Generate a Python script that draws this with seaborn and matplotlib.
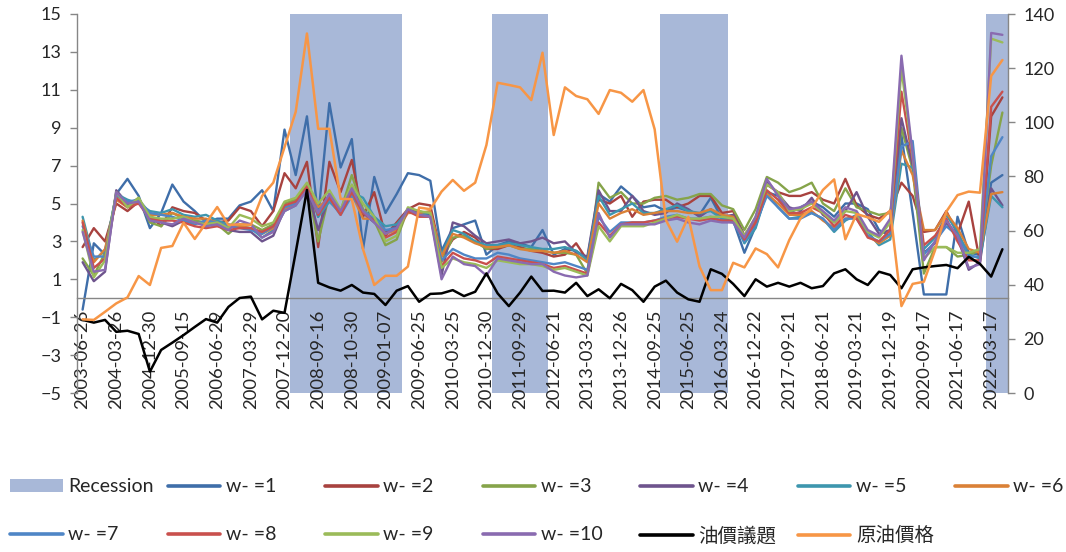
import numpy as np
import pandas as pd
import matplotlib
matplotlib.use("Agg")
import matplotlib.pyplot as plt
import seaborn as sns
from matplotlib.lines import Line2D
from matplotlib.patches import Patch

# ---- data ----
tick_dates = [
    "2003-06-26", "2004-03-26", "2004-12-30", "2005-09-15", "2006-06-29",
    "2007-03-29", "2007-12-20", "2008-09-16", "2008-10-30", "2009-01-07",
    "2009-06-25", "2010-03-25", "2010-12-30", "2011-09-29", "2012-06-21",
    "2013-03-28", "2013-12-26", "2014-09-25", "2015-06-25", "2016-03-24",
    "2016-12-22", "2017-09-21", "2018-06-21", "2019-03-21", "2019-12-19",
    "2020-09-17", "2021-06-17", "2022-03-17",
]
label_every = 3

# recession periods as (first, last) observation index
recession_spans = [(19, 28), (37, 41), (52, 57), (81, 82)]

w1 = [-0.6, 2.9, 2.3, 5.5, 6.3, 5.4, 3.7, 4.5, 6.0, 5.1, 4.6, 4.0, 4.2, 4.2, 4.9, 5.1, 5.7, 4.6, 8.9, 6.5,
      9.6, 4.3, 10.3, 6.9, 8.4, 2.6, 6.4, 4.5, 5.5, 6.6, 6.5, 6.2, 2.5, 3.7, 3.9, 4.1, 2.3, 2.8, 3.0, 2.9,
      2.7, 3.6, 2.3, 2.6, 2.5, 2.1, 5.5, 5.1, 5.9, 5.4, 4.8, 4.9, 4.6, 4.8, 4.6, 4.4, 5.3, 4.2, 4.1, 2.4,
      3.8, 5.6, 5.4, 4.5, 4.8, 5.1, 4.8, 4.3, 5.0, 5.0, 4.7, 3.6, 3.3, 8.6, 4.5, 0.2, 0.2, 0.2, 4.3, 2.4,
      2.3, 6.1, 6.5]
w2 = [2.7, 3.7, 3.0, 5.0, 4.6, 5.1, 4.4, 3.8, 4.8, 4.6, 4.5, 4.1, 4.0, 4.1, 4.8, 4.6, 3.8, 4.6, 6.6, 5.8,
      7.2, 2.7, 7.2, 5.6, 7.3, 4.3, 5.6, 3.3, 4.0, 4.7, 5.0, 4.9, 2.2, 3.1, 3.5, 3.2, 2.6, 2.6, 2.8, 2.7,
      2.5, 2.4, 2.2, 2.3, 2.9, 2.0, 5.2, 5.0, 5.4, 4.3, 5.1, 5.2, 5.2, 4.8, 5.0, 5.4, 5.4, 4.5, 4.6, 3.3,
      4.2, 6.0, 5.6, 5.4, 5.4, 5.6, 5.2, 5.0, 6.3, 4.9, 4.4, 4.2, 4.6, 6.1, 5.4, 3.5, 3.6, 4.6, 3.4, 5.1,
      1.9, 9.6, 10.6]
w3 = [2.1, 1.2, 2.4, 5.5, 4.9, 5.3, 4.0, 3.8, 4.5, 4.2, 4.1, 4.0, 3.9, 3.4, 3.9, 3.9, 3.6, 3.9, 5.0, 5.2,
      6.0, 3.0, 5.5, 4.6, 6.5, 4.7, 4.1, 2.8, 3.1, 4.7, 4.6, 4.4, 1.9, 3.2, 3.3, 3.0, 2.6, 2.7, 2.8, 2.6,
      2.6, 2.5, 2.4, 2.4, 2.3, 1.3, 6.1, 5.3, 5.6, 5.0, 5.0, 5.3, 5.4, 5.2, 5.3, 5.5, 5.5, 4.9, 4.7, 3.6,
      4.7, 6.4, 6.1, 5.6, 5.8, 6.1, 5.0, 4.6, 5.8, 4.8, 4.6, 4.4, 4.5, 9.0, 6.8, 1.3, 2.7, 2.7, 2.2, 2.3,
      2.5, 7.0, 9.8]
w4 = [1.9, 0.9, 1.4, 5.7, 5.0, 5.1, 4.3, 4.0, 3.8, 4.1, 4.0, 3.9, 3.9, 3.6, 3.5, 3.5, 3.0, 3.3, 4.7, 5.0,
      5.8, 3.6, 5.4, 4.5, 5.8, 4.5, 4.0, 3.5, 3.8, 4.7, 4.5, 4.4, 1.2, 4.0, 3.8, 3.3, 2.9, 3.0, 3.1, 2.9,
      3.0, 3.2, 2.9, 3.0, 2.4, 2.2, 5.7, 4.6, 4.6, 5.4, 4.6, 4.4, 4.5, 5.0, 4.7, 4.3, 4.7, 4.3, 4.4, 3.3,
      4.2, 6.2, 5.5, 4.8, 4.6, 5.3, 4.4, 4.0, 4.6, 5.6, 4.3, 3.4, 3.6, 9.5, 7.0, 2.4, 2.9, 4.0, 3.2, 1.5,
      1.9, 5.8, 4.9]
w5 = [4.3, 2.0, 2.5, 5.5, 5.2, 5.0, 4.6, 4.5, 4.7, 4.4, 4.3, 4.4, 4.1, 3.9, 3.8, 3.7, 3.2, 3.6, 4.6, 4.9,
      5.9, 4.3, 5.1, 4.5, 5.6, 5.3, 4.3, 3.8, 3.9, 4.6, 4.4, 4.5, 2.3, 3.6, 3.4, 3.0, 2.8, 2.8, 2.9, 2.8,
      2.7, 2.6, 2.6, 2.7, 2.5, 2.0, 5.4, 4.4, 4.7, 5.0, 4.5, 4.5, 4.7, 4.9, 4.6, 4.5, 4.6, 4.2, 4.2, 2.9,
      3.7, 5.6, 4.8, 4.2, 4.3, 4.5, 4.2, 3.5, 4.1, 4.4, 3.5, 2.8, 3.1, 7.1, 6.9, 2.6, 3.2, 4.4, 3.5, 2.3,
      2.1, 5.4, 4.8]
w6 = [4.1, 1.9, 2.6, 5.2, 4.8, 5.1, 4.4, 4.4, 4.5, 4.3, 4.2, 4.2, 4.0, 3.8, 3.8, 3.7, 3.4, 3.7, 4.7, 5.0,
      5.8, 4.8, 5.3, 4.6, 5.5, 4.2, 4.2, 3.4, 3.6, 4.5, 4.5, 4.6, 2.2, 3.4, 3.2, 2.9, 2.7, 2.7, 2.8, 2.6,
      2.5, 2.5, 2.4, 2.5, 2.3, 1.9, 5.0, 4.2, 4.5, 4.7, 4.4, 4.5, 4.6, 4.6, 4.5, 4.5, 4.7, 4.4, 4.3, 3.2,
      4.0, 5.5, 5.0, 4.4, 4.4, 4.6, 4.1, 3.7, 4.2, 4.3, 3.3, 2.9, 3.3, 7.8, 6.5, 3.6, 3.6, 4.5, 3.7, 2.6,
      2.4, 5.5, 5.6]
w7 = [3.8, 2.2, 2.2, 5.4, 5.1, 5.2, 4.5, 4.4, 4.3, 4.1, 3.9, 4.1, 4.0, 3.8, 3.7, 3.6, 3.4, 3.8, 4.8, 5.0,
      5.7, 4.6, 5.2, 4.4, 5.4, 4.6, 4.2, 3.6, 3.7, 4.6, 4.4, 4.3, 2.0, 2.6, 2.3, 2.1, 2.1, 2.4, 2.3, 2.1,
      2.0, 1.9, 1.8, 1.9, 1.7, 1.5, 4.3, 3.5, 4.0, 4.0, 4.0, 4.1, 4.3, 4.4, 4.2, 4.2, 4.3, 4.1, 4.0, 3.0,
      3.9, 5.4, 4.8, 4.2, 4.2, 4.5, 4.2, 3.6, 4.2, 4.2, 3.3, 3.0, 3.4, 8.0, 8.3, 2.3, 3.0, 3.8, 3.3, 2.2,
      2.2, 7.5, 8.5]
w8 = [4.0, 1.6, 2.1, 5.3, 4.8, 5.0, 4.2, 4.1, 4.1, 4.0, 3.8, 3.7, 3.8, 3.6, 3.7, 3.7, 3.5, 3.8, 4.9, 5.1,
      5.9, 4.4, 5.3, 4.4, 5.6, 4.5, 4.1, 3.2, 3.5, 4.6, 4.3, 4.3, 1.7, 2.4, 2.1, 2.0, 1.8, 2.2, 2.1, 2.0,
      1.9, 1.8, 1.6, 1.7, 1.5, 1.3, 4.0, 3.3, 3.9, 4.0, 4.0, 4.1, 4.2, 4.3, 4.2, 4.1, 4.2, 4.1, 4.1, 3.1,
      4.0, 5.7, 5.2, 4.5, 4.5, 4.8, 4.5, 3.8, 4.4, 4.2, 3.2, 3.0, 3.6, 10.9, 7.3, 2.8, 3.3, 4.2, 3.0, 2.0,
      2.0, 10.1, 10.9]
w9 = [3.6, 1.1, 2.0, 5.6, 4.8, 5.3, 4.3, 4.2, 4.2, 4.3, 4.0, 3.9, 4.0, 3.7, 4.4, 4.2, 3.8, 4.0, 5.1, 5.3,
      6.1, 5.0, 5.7, 4.7, 6.0, 5.0, 4.3, 3.0, 3.3, 4.8, 4.6, 4.5, 1.6, 2.1, 1.9, 1.8, 1.6, 2.0, 1.9, 1.8,
      1.8, 1.7, 1.5, 1.6, 1.4, 1.2, 3.8, 3.0, 3.8, 3.8, 3.8, 4.0, 4.2, 4.4, 4.2, 4.2, 4.3, 4.3, 4.2, 3.3,
      4.3, 6.0, 5.6, 4.6, 4.7, 5.0, 4.5, 4.0, 4.6, 4.5, 3.5, 3.2, 4.0, 12.1, 7.5, 2.1, 2.7, 2.7, 2.4, 2.4,
      2.6, 13.7, 13.5]
w10 = [3.5, 1.4, 1.5, 5.6, 5.0, 5.1, 4.1, 4.0, 3.9, 4.2, 4.0, 3.8, 3.9, 3.6, 4.1, 3.9, 3.2, 3.5, 4.6, 4.9,
       5.7, 4.5, 5.5, 4.6, 5.8, 4.6, 4.0, 3.4, 3.7, 4.7, 4.4, 4.3, 1.0, 2.2, 1.8, 1.7, 1.2, 2.1, 2.0, 1.9,
       1.8, 1.8, 1.4, 1.2, 1.1, 1.2, 4.5, 3.2, 3.9, 3.9, 3.9, 3.9, 4.1, 4.2, 4.0, 3.9, 4.1, 4.0, 4.0, 3.2,
       4.3, 6.3, 5.4, 4.7, 4.8, 5.1, 4.6, 4.1, 4.8, 4.6, 3.6, 3.3, 4.2, 12.8, 7.6, 2.0, 3.0, 4.1, 3.3, 1.6,
       1.8, 14.0, 13.9]

oil_topic = [27.0, 26.0, 27.0, 22.6, 23.0, 21.8, 7.9, 15.9, 18.6, 21.4, 24.4, 27.3, 26.0, 31.8, 35.1, 35.6,
             27.2, 30.4, 29.6, 52.0, 75.0, 40.7, 39.0, 37.8, 39.9, 37.1, 36.6, 32.5, 37.8, 39.5, 33.7, 36.6,
             36.8, 38.0, 35.8, 37.4, 44.2, 36.8, 32.1, 37.1, 43.0, 37.7, 37.8, 37.1, 40.7, 35.8, 38.3, 35.0,
             40.3, 38.0, 33.7, 39.3, 41.5, 37.1, 34.6, 33.7, 45.7, 44.0, 40.3, 35.8, 42.0, 39.3, 40.7, 39.3,
             40.7, 38.7, 39.5, 44.2, 45.7, 42.0, 39.9, 44.8, 43.6, 38.7, 45.7, 46.4, 46.9, 47.3, 46.1, 50.3,
             47.7, 43.0, 53.1]
crude_oil = [27.2, 27.0, 30.0, 33.1, 35.3, 43.2, 39.9, 53.6, 54.3, 62.9, 56.9, 62.8, 68.7, 62.1, 62.3, 62.1,
             72.8, 77.7, 90.8, 103.9, 132.8, 97.6, 97.6, 71.7, 71.6, 53.1, 39.9, 43.3, 43.3, 46.7, 68.5, 67.9,
             74.4, 78.7, 74.7, 77.7, 91.6, 114.6, 113.8, 112.9, 108.2, 125.7, 95.3, 112.9, 109.7, 108.5, 103.1,
             111.9, 110.9, 107.6, 111.9, 97.4, 63.9, 55.9, 65.1, 46.7, 38.0, 38.0, 48.1, 46.4, 53.4, 51.3,
             46.4, 56.5, 64.5, 68.2, 75.0, 78.9, 56.8, 66.1, 64.9, 63.2, 67.4, 32.1, 40.3, 41.1, 52.8, 67.0,
             73.1, 74.4, 74.0, 117.1, 123.0]

w_names = ["w- =1", "w- =2", "w- =3", "w- =4", "w- =5",
           "w- =6", "w- =7", "w- =8", "w- =9", "w- =10"]
w_values = [w1, w2, w3, w4, w5, w6, w7, w8, w9, w10]
w_colors = ["#3F6EA9", "#A8423F", "#86A44A", "#6E548D", "#3D96AE",
            "#DA8137", "#4F86C6", "#C9504D", "#9BBB59", "#8A6BB0"]
right_names = ["油價議題", "原油價格"]
right_colors = ["#000000", "#F79646"]
recession_color = "#A8B8D8"
axis_grey = "#868686"

n = len(w1)
idx = np.arange(n)
rec_flag = np.zeros(n)
for a, b in recession_spans:
    rec_flag[a:b + 1] = 1

df_w = pd.concat(
    [pd.DataFrame({"idx": idx, "value": v, "series": s}) for s, v in zip(w_names, w_values)],
    ignore_index=True)
df_r = pd.concat(
    [pd.DataFrame({"idx": idx, "value": v, "series": s})
     for s, v in zip(right_names, [oil_topic, crude_oil])],
    ignore_index=True)

# ---- style ----
sns.set_style("white")
plt.rcParams["font.family"] = ["Lato", "Noto Sans CJK TC", "DejaVu Sans"]
plt.rcParams["font.size"] = 13

fig = plt.figure(figsize=(10.66, 5.52), dpi=100)
ax = fig.add_axes([77 / 1066, 1 - 393 / 552, 931 / 1066, 379 / 552])
ax2 = ax.twinx()

# recession shading (full height of the plot area)
ax.bar(idx, rec_flag * 20, bottom=-5, width=1.0, color=recession_color,
       linewidth=0, zorder=0)

sns.lineplot(data=df_w, x="idx", y="value", hue="series", hue_order=w_names,
             palette=w_colors, linewidth=1.7, estimator=None, legend=False, ax=ax)
sns.lineplot(data=df_r, x="idx", y="value", hue="series", hue_order=right_names,
             palette=right_colors, linewidth=1.8, estimator=None, legend=False, ax=ax2)

ax.set_xlim(-0.5, n - 0.5)
ax.set_ylim(-5, 15)
ax2.set_ylim(0, 140)
ax.set_xlabel("")
ax.set_ylabel("")
ax2.set_ylabel("")

ax.set_yticks(np.arange(-5, 16, 2))
ax2.set_yticks(np.arange(0, 141, 20))

label_pos = idx[::label_every][:len(tick_dates)]
ax.set_xticks(label_pos)
ax.set_xticklabels(tick_dates)
ax.set_xticks(np.arange(-0.5, n, 1), minor=True)
ax.tick_params(axis="x", which="major", length=0, pad=8, labelsize=13.3,
               labelrotation=90)
ax.tick_params(axis="x", which="minor", length=5, direction="out", color=axis_grey, width=1)
ax.tick_params(axis="y", length=5, direction="out", color=axis_grey, width=1,
               labelsize=13, pad=6)
ax2.tick_params(axis="y", length=5, direction="out", color=axis_grey, width=1,
                labelsize=13, pad=6)
ax2.tick_params(axis="x", length=0, labelbottom=False)
for t in ax.get_xticklabels():
    t.set_rotation(90)
    t.set_ha("center")
    t.set_va("top")

ax.spines["bottom"].set_position(("data", 0))
for sp in ["top", "right"]:
    ax.spines[sp].set_visible(False)
for sp in ["left", "bottom"]:
    ax.spines[sp].set_color(axis_grey)
    ax.spines[sp].set_linewidth(1)
for sp in ["top", "left", "bottom"]:
    ax2.spines[sp].set_visible(False)
ax2.spines["right"].set_color(axis_grey)
ax2.spines["right"].set_linewidth(1)

# ---- legend: two rows, evenly spaced like the spreadsheet legend ----
entries = [Patch(facecolor=recession_color, edgecolor="none")]
labels = ["Recession"]
for name, col in zip(w_names, w_colors):
    entries.append(Line2D([], [], color=col, linewidth=2.6))
    labels.append(name)
for name, col in zip(right_names, right_colors):
    entries.append(Line2D([], [], color=col, linewidth=2.6))
    labels.append(name)

col_x = [10 + 157.5 * k for k in range(7)]
row_y = [487, 535]
for k, (h, lab) in enumerate(zip(entries, labels)):
    r, c = divmod(k, 7)
    fig.legend(handles=[h], labels=[lab], loc="center left",
               bbox_to_anchor=(col_x[c] / 1066, 1 - row_y[r] / 552),
               frameon=False, borderpad=0, borderaxespad=0,
               handlelength=2.7, handleheight=0.65, handletextpad=0.3,
               fontsize=14)

fig.savefig("out.png", dpi=100)
